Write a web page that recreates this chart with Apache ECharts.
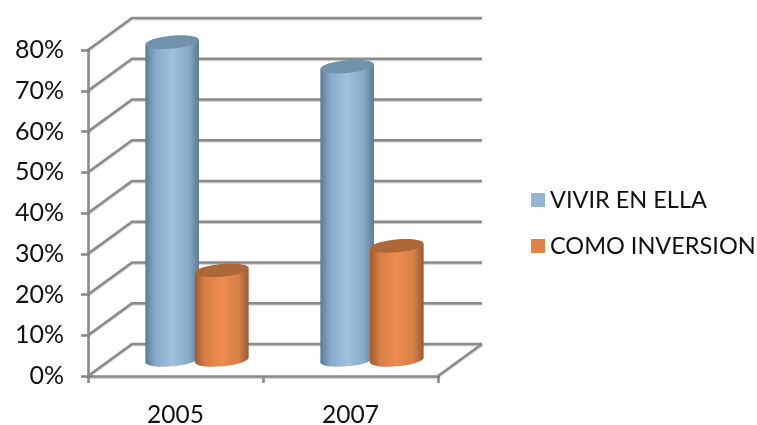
<!DOCTYPE html>
<html>
<head>
<meta charset="utf-8">
<style>html,body{margin:0;padding:0;background:#fff}#chart{width:757px;height:425px}</style>
<script src="https://cdn.jsdelivr.net/npm/echarts@6/dist/echarts.min.js"></script>
</head>
<body>
<div id="chart"></div>
<script>
// Share of respondents by purpose of the home, per survey year
const years = ['2005', '2007'];
const vivirEnElla = [78, 72];
const comoInversion = [22, 28];
const percentTicks = [0, 10, 20, 30, 40, 50, 60, 70, 80];

const FONT = 'Lato';
const LINE = '#8b8b8b';
const LINE_SHADOW = {shadowColor: 'rgba(0,0,0,0.22)', shadowBlur: 1, shadowOffsetY: 1};
// Depth of the fake 3D box, in pixels
const DEPTH_X = 44, DEPTH_Y = -32;

const chart = echarts.init(document.getElementById('chart'), null, {renderer: 'canvas'});

// Back wall rules, left wall diagonals and the floor edge
function renderWall(params, api) {
  const cs = params.coordSys;
  const v = api.value(0);
  const y = api.coord([0, v])[1];
  const x0 = cs.x, x1 = cs.x + cs.width;
  const style = Object.assign({stroke: LINE, lineWidth: 2.6, fill: null}, LINE_SHADOW);
  const children = [{
    type: 'polyline',
    shape: {points: [[x0, y], [x0 + DEPTH_X, y + DEPTH_Y], [x1 + DEPTH_X, y + DEPTH_Y]]},
    style
  }];
  if (v === 0) {
    children.push({
      type: 'line',
      shape: {x1: x1, y1: y, x2: x1 + DEPTH_X, y2: y + DEPTH_Y},
      style
    });
  }
  return {type: 'group', children};
}

// A tilted cylinder standing at the middle of the box depth
function cylinder(colors, side) {
  return function (params, api) {
    const cat = api.value(0);
    const band = api.size([1, 0])[0];
    const base = api.coord([cat, 0]);
    const top = api.coord([cat, api.value(1)]);
    const cx = base[0] + DEPTH_X / 2 - 0.5 + side * band * 0.142;
    const rx = 26.8, ry = 6.4, tilt = 5.3 * Math.PI / 180;
    const dy = rx * Math.sin(tilt);
    const yBase = base[1] + DEPTH_Y / 2;
    const yTop = top[1] + DEPTH_Y / 2;
    const grad = new echarts.graphic.LinearGradient(0, 0, 1, 0, [
      {offset: 0, color: colors[0]},
      {offset: 0.18, color: colors[1]},
      {offset: 0.5, color: colors[2]},
      {offset: 0.82, color: colors[1]},
      {offset: 1, color: colors[3]}
    ]);
    const ellipse = (cy, fill) => ({
      type: 'ellipse',
      x: cx, y: cy, rotation: tilt,
      shape: {cx: 0, cy: 0, rx, ry},
      style: {fill}
    });
    return {
      type: 'group',
      children: [
        ellipse(yBase, grad),
        {
          type: 'polygon',
          shape: {points: [
            [cx - rx, yTop + dy], [cx + rx, yTop - dy],
            [cx + rx, yBase - dy], [cx - rx, yBase + dy]
          ]},
          style: {fill: grad}
        },
        ellipse(yTop, colors[4])
      ]
    };
  };
}

const BLUE = ['#5a7c97', '#86a9c7', '#9fc2e1', '#5c7b92', '#7092ab'];
const ORANGE = ['#a4592a', '#d67e46', '#ef8c4e', '#9a5a30', '#ad6838'];

chart.setOption({
  animation: false,
  backgroundColor: '#ffffff',
  textStyle: {fontFamily: FONT},
  grid: {left: 88, top: 50, width: 350, height: 326, outerBoundsMode: 'none'},
  legend: {
    orient: 'vertical',
    left: 531,
    top: 188,
    padding: 0,
    itemWidth: 14,
    itemHeight: 14,
    itemGap: 22,
    icon: 'rect',
    data: [
      {name: 'VIVIR EN ELLA', itemStyle: {color: '#92b5d3'}},
      {name: 'COMO INVERSION', itemStyle: {color: '#df8349'}}
    ],
    textStyle: {fontFamily: FONT, fontSize: 23.5, color: '#111'}
  },
  xAxis: {
    type: 'category',
    data: years,
    axisLine: {lineStyle: Object.assign({color: LINE, width: 2.6}, LINE_SHADOW)},
    axisTick: {show: true, alignWithLabel: false, length: 7, lineStyle: {color: LINE, width: 2.6}},
    axisLabel: {fontFamily: FONT, fontSize: 24.5, color: '#111', margin: 27},
    splitLine: {show: false}
  },
  yAxis: {
    type: 'value',
    min: 0,
    max: 80,
    interval: 10,
    axisLine: {show: true, lineStyle: {color: LINE, width: 2.6}},
    axisTick: {show: true, length: 7, lineStyle: {color: LINE, width: 2.6}},
    axisLabel: {fontFamily: FONT, fontSize: 25, color: '#111', margin: 24, padding: [5, 0, 0, 0], formatter: '{value}%'},
    splitLine: {show: false}
  },
  series: [
    {
      type: 'custom',
      name: 'wall',
      z: 1,
      silent: true,
      renderItem: renderWall,
      encode: {y: 0},
      data: percentTicks.map(v => [v])
    },
    {
      type: 'custom',
      name: 'VIVIR EN ELLA',
      z: 3,
      renderItem: cylinder(BLUE, -1),
      encode: {x: 0, y: 1},
      itemStyle: {color: '#92b5d3'},
      data: vivirEnElla.map((v, i) => [i, v])
    },
    {
      type: 'custom',
      name: 'COMO INVERSION',
      z: 4,
      renderItem: cylinder(ORANGE, 1),
      encode: {x: 0, y: 1},
      itemStyle: {color: '#df8349'},
      data: comoInversion.map((v, i) => [i, v])
    }
  ]
});
</script>
</body>
</html>
